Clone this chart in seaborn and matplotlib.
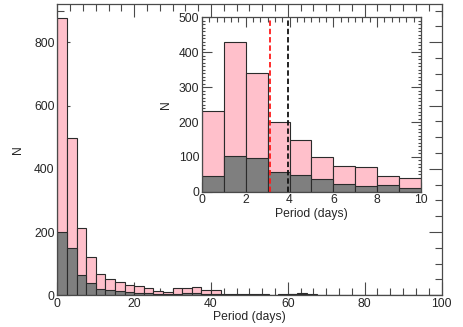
import numpy as np
import pandas as pd
import matplotlib
matplotlib.use("Agg")
import matplotlib.pyplot as plt
from matplotlib.ticker import MultipleLocator
import seaborn as sns

# main histogram: 2.5-day bins from 0 to 100 days
main_edges = [i * 2.5 for i in range(41)]
main_all = [878, 497, 212, 122, 68, 53, 41, 34, 31, 22,
            15, 9, 24, 23, 25, 18, 16, 3, 5, 5,
            5, 5, 2, 5, 5, 6, 4, 1, 1, 0,
            1, 0, 1, 1, 2, 2, 1, 1, 0, 0]
main_sub = [200, 150, 63, 38, 19, 18, 15, 9, 8, 6,
            4, 3, 4, 6, 8, 4, 3, 1, 1, 2,
            2, 1, 1, 2, 3, 5, 2, 1, 0, 0,
            0, 0, 0, 0, 1, 1, 0, 0, 0, 0]

# inset: 1-day bins from 0 to 10 days
inset_edges = [float(i) for i in range(11)]
inset_all = [232, 431, 342, 201, 148, 100, 74, 72, 46, 38]
inset_sub = [45, 102, 98, 57, 47, 35, 21, 16, 18, 11]

median_all = 3.93
median_sub = 3.13

sns.set_style("ticks")
plt.rcParams['font.family'] = ['Liberation Sans', 'DejaVu Sans']
plt.rcParams['font.size'] = 8.7

PINK = '#ffc0cb'
GRAY = '#7f7f7f'
EDGE = '#2b2b2b'
AXC = '#4a4a4a'


def draw_hist(ax, edges, counts, color):
    e = np.asarray(edges)
    centers = (e[:-1] + e[1:]) / 2
    df = pd.DataFrame({'period': centers, 'n': counts})
    sns.histplot(data=df, x='period', weights='n', bins=list(edges), ax=ax,
                 color=color, alpha=1, edgecolor=EDGE, linewidth=0.8)


def style_axes(ax, xmaj, xmin, ymaj, ymin, major_len, minor_len_x, minor_len_y):
    ax.xaxis.set_major_locator(MultipleLocator(xmaj))
    ax.xaxis.set_minor_locator(MultipleLocator(xmin))
    ax.yaxis.set_major_locator(MultipleLocator(ymaj))
    ax.yaxis.set_minor_locator(MultipleLocator(ymin))
    ax.tick_params(which='both', direction='in', top=True, right=True,
                   width=0.8, color=AXC, labelsize=8.7, pad=2)
    ax.tick_params(which='major', length=major_len)
    ax.tick_params(axis='x', which='minor', length=minor_len_x)
    ax.tick_params(axis='y', which='minor', length=minor_len_y)
    for sp in ax.spines.values():
        sp.set_visible(True)
        sp.set_linewidth(0.9)
        sp.set_color(AXC)


fig = plt.figure(figsize=(4.63, 3.27), dpi=100)

# main panel
ax = fig.add_axes([0.1238, 0.0969, 0.8298, 0.8900])
draw_hist(ax, main_edges, main_all, PINK)
draw_hist(ax, main_edges, main_sub, GRAY)
ax.set_xlim(0, 100)
ax.set_ylim(0, 920)
ax.set_xlabel("Period (days)", labelpad=1)
ax.set_ylabel("N", labelpad=7)
style_axes(ax, 20, 20 / 6, 200, 50, 9.5, 5, 5)

# inset panel
axi = fig.add_axes([0.4363, 0.4138, 0.4726, 0.5327])
axi.set_facecolor('white')
draw_hist(axi, inset_edges, inset_all, PINK)
draw_hist(axi, inset_edges, inset_sub, GRAY)
axi.axvline(median_sub, color='#ff1a1a', lw=1.3, ls=(0, (3, 1.6)))
axi.axvline(median_all, color='#111111', lw=1.3, ls=(0, (3, 1.6)))
axi.set_xlim(0, 10)
axi.set_ylim(0, 500)
axi.set_xlabel("Period (days)", labelpad=1)
axi.set_ylabel("N", labelpad=5)
style_axes(axi, 2, 2 / 6, 100, 10, 7.5, 3.6, 2.2)

fig.savefig("out.png", dpi=100)
